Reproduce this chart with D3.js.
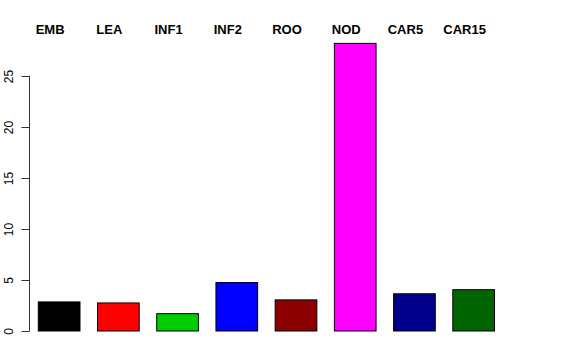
<!DOCTYPE html>
<html>
<head>
<meta charset="utf-8">
<script src="https://cdn.jsdelivr.net/npm/d3@7"></script>
<style>
  body { margin: 0; background: #fff; }
  svg { display: block; font-family: "Liberation Sans", Arial, sans-serif; }
</style>
</head>
<body>
<svg></svg>
<script>
// data
const categories = ["EMB", "LEA", "INF1", "INF2", "ROO", "NOD", "CAR5", "CAR15"];
const values = [2.85, 2.75, 1.7, 4.75, 3.05, 28.2, 3.65, 4.05];
const barColors = ["#000000", "#FF0000", "#00CD00", "#0000FF", "#8B0000", "#FF00FF", "#00008B", "#006400"];
const yTicks = [0, 5, 10, 15, 20, 25];

const width = 576, height = 360;
const svg = d3.select("svg")
    .attr("width", width)
    .attr("height", height);

// scales
const x = d3.scaleBand()
    .domain(categories)
    .range([38.3, 494.5])
    .paddingInner(0.296)
    .paddingOuter(0);

const y = d3.scaleLinear()
    .domain([0, 25])
    .range([331, 76]);

// bars
svg.selectAll("rect.bar")
    .data(categories)
    .enter()
    .append("rect")
    .attr("class", "bar")
    .attr("x", d => x(d))
    .attr("y", (d, i) => y(values[i]))
    .attr("width", x.bandwidth())
    .attr("height", (d, i) => y(0) - y(values[i]))
    .attr("fill", (d, i) => barColors[i])
    .attr("stroke", "#000")
    .attr("stroke-width", 1);

// y axis, R style
const axis = svg.append("g")
    .attr("transform", "translate(29.5,0)")
    .call(d3.axisLeft(y).tickValues(yTicks).tickSize(8));

axis.select(".domain")
    .attr("d", `M0,${y(0)}V${y(25)}`)
    .attr("stroke", "#333");
axis.selectAll(".tick line").attr("stroke", "#333");
// rotated tick labels
axis.selectAll(".tick text")
    .attr("font-size", 12)
    .attr("fill", "#000")
    .attr("text-anchor", "middle")
    .attr("transform", "translate(-21,0) rotate(-90)")
    .attr("x", 0)
    .attr("y", 0)
    .attr("dy", "0.35em");

// category labels on top
svg.selectAll("text.cat")
    .data(categories)
    .enter()
    .append("text")
    .attr("class", "cat")
    .attr("x", d => x(d) + x.bandwidth() / 2 - 9)
    .attr("y", 34)
    .attr("text-anchor", "middle")
    .attr("font-size", 13)
    .attr("font-weight", "bold")
    .attr("fill", "#000")
    .text(d => d);
</script>
</body>
</html>
